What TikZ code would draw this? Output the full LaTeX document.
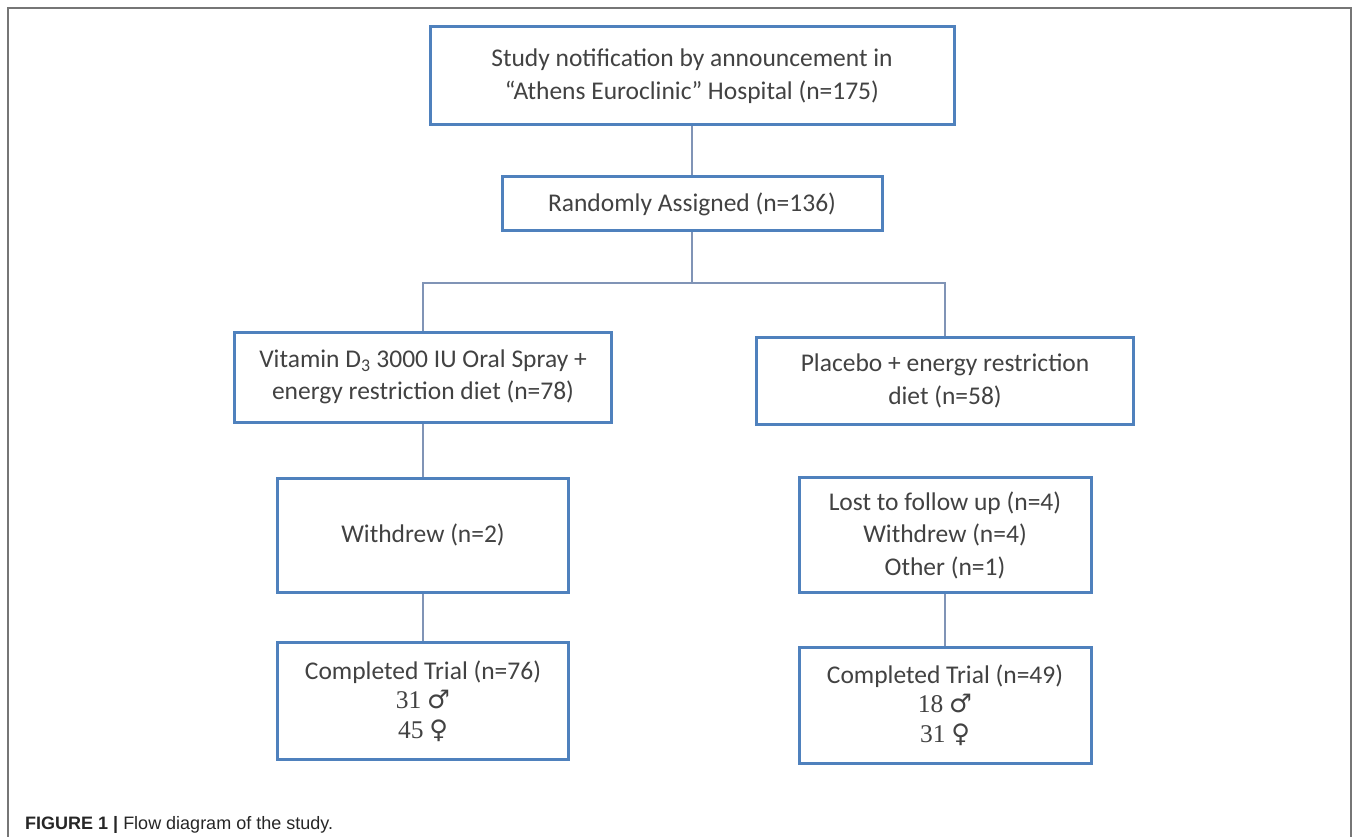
\documentclass[tikz,border=0pt]{standalone}
\usepackage{fontspec}
\setmainfont{Carlito}
\newfontfamily\capfont{Liberation Sans}
\newfontfamily\symfont{DejaVu Sans}
\newfontfamily\numfont{Liberation Serif}
\definecolor{boxblue}{RGB}{79,129,189}
\definecolor{linkgray}{RGB}{128,148,182}
\definecolor{framegray}{RGB}{118,118,118}
\definecolor{textgray}{RGB}{66,66,66}
\newcommand{\symmale}{{\symfont ♂}}
\newcommand{\symfemale}{{\symfont ♀}}
\begin{document}
\begin{tikzpicture}[x=1pt, y=-1pt,
    flowbox/.style={draw=boxblue, line width=3pt, fill=white, align=center, inner sep=0pt,
        text=textgray, font=\fontsize{25.5}{32.5}\selectfont},
    link/.style={draw=linkgray, line width=2pt}]
    \useasboundingbox (0,0) rectangle (1360,837);
    \draw[framegray, line width=1.5pt] (8,837) -- (8,8) -- (1351,8) -- (1351,837);

    % Flow diagram of the study
    \node[flowbox, minimum width=524pt, minimum height=98pt] (notif) at (692,76)
        {Study notification by announcement in\\“Athens Euroclinic” Hospital (n=175)};
    \node[flowbox, minimum width=380pt, minimum height=54pt] (rand) at (692,204)
        {Randomly Assigned (n=136)};
    \node[flowbox, minimum width=377pt, minimum height=90pt] (vit) at (423,377)
        {Vitamin D\textsubscript{3} 3000 IU Oral Spray +\\energy restriction diet (n=78)};
    \node[flowbox, minimum width=377pt, minimum height=87pt] (plac) at (945,381)
        {Placebo + energy restriction\\diet (n=58)};
    \node[flowbox, minimum width=291pt, minimum height=114pt] (wdl) at (423,535)
        {Withdrew (n=2)};
    \node[flowbox, minimum width=292pt, minimum height=115pt] (lost) at (945,535)
        {Lost to follow up (n=4)\\Withdrew (n=4)\\Other (n=1)};
    \node[flowbox, minimum width=291pt, minimum height=117pt] (compl) at (423,701)
        {Completed Trial (n=76)\\[-3pt]{\numfont 31} \symmale\\[-3pt]{\numfont 45} \symfemale};
    \node[flowbox, minimum width=292pt, minimum height=116pt] (compr) at (945,705)
        {Completed Trial (n=49)\\[-3pt]{\numfont 18} \symmale\\[-3pt]{\numfont 31} \symfemale};

    \coordinate (split) at (692,283);
    \draw[link] (notif.south) -- (rand.north);
    \draw[link] (rand.south) -- (split);
    \draw[link] (split) -| (vit.north);
    \draw[link] (split) -| (plac.north);
    \draw[link] (vit.south) -- (wdl.north);
    \draw[link] (wdl.south) -- (compl.north);
    \draw[link] (lost.south) -- (compr.north);

    \node[anchor=base west, inner sep=0pt, text=black!85, font=\capfont\fontsize{18}{21}\selectfont] (cap) at (25,829)
        {\textbf{FIGURE 1 |} Flow diagram of the study.};
\end{tikzpicture}
\end{document}
